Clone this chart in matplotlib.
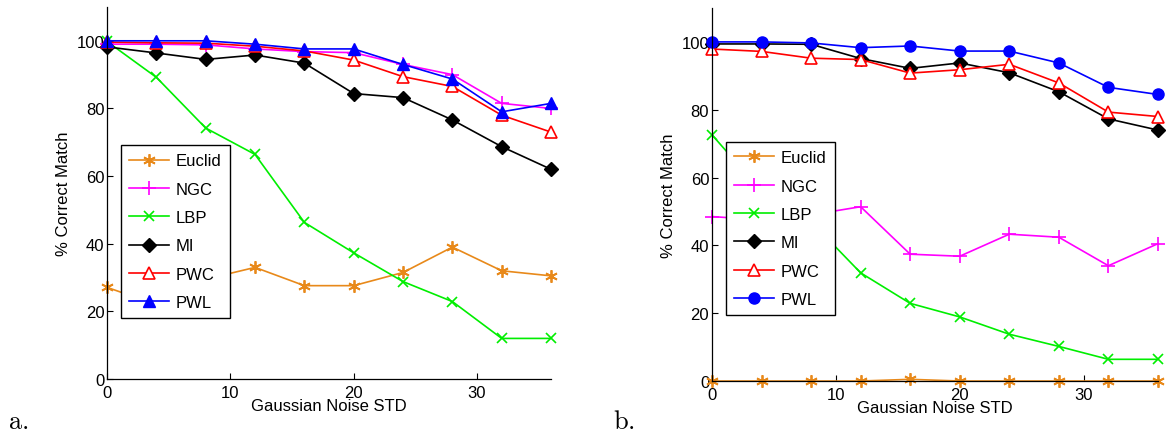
import matplotlib
matplotlib.use("Agg")
import matplotlib.pyplot as plt

plt.rcParams['font.family'] = ['Liberation Sans', 'DejaVu Sans']
plt.rcParams['mathtext.fontset'] = 'cm'

noise = [0, 4, 8, 12, 16, 20, 24, 28, 32, 36]
methods = ["Euclid", "NGC", "LBP", "MI", "PWC", "PWL"]

# panel a
euclid_a = [27.1, 22.0, 29.5, 33.0, 27.6, 27.6, 31.5, 39.0, 32.0, 30.5]
ngc_a = [99.0, 99.0, 98.8, 97.6, 96.8, 96.5, 93.0, 90.0, 81.5, 80.0]
lbp_a = [99.8, 89.2, 74.2, 66.4, 46.3, 37.3, 28.8, 22.9, 12.0, 12.0]
mi_a = [98.2, 96.4, 94.5, 95.8, 93.4, 84.4, 83.2, 76.6, 68.7, 62.0]
pwc_a = [99.6, 99.4, 99.3, 98.4, 97.0, 94.3, 89.4, 86.5, 78.0, 73.0]
pwl_a = [100.0, 100.0, 100.0, 99.0, 97.6, 97.6, 93.0, 88.7, 79.0, 81.5]

# panel b
euclid_b = [0.0, 0.0, 0.0, 0.0, 0.5, 0.0, 0.0, 0.0, 0.0, 0.0]
ngc_b = [48.5, 47.5, 49.0, 51.4, 37.4, 36.8, 43.3, 42.4, 34.0, 40.5]
lbp_b = [72.6, 56.0, 47.0, 31.9, 22.9, 18.9, 13.8, 10.2, 6.4, 6.4]
mi_b = [99.4, 99.4, 99.3, 95.1, 92.2, 93.8, 90.9, 85.3, 77.3, 74.0]
pwc_b = [97.9, 97.2, 95.2, 94.8, 90.8, 91.8, 93.4, 87.9, 79.3, 78.0]
pwl_b = [100.0, 100.0, 99.7, 98.3, 98.8, 97.3, 97.3, 93.8, 86.6, 84.5]

orange = '#E8891A'
# asterisk marker built from three crossing strokes
asterisk = (6, 2, 0)
styles_a = [
    dict(color=orange, marker=asterisk, ms=9, mew=1.3),
    dict(color='#FF00FF', marker='+', ms=10, mew=1.2),
    dict(color='#00EE00', marker='x', ms=7, mew=1.2),
    dict(color='black', marker='D', ms=7, mfc='black'),
    dict(color='red', marker='^', ms=8.5, mfc='white', mew=1.2),
    dict(color='blue', marker='^', ms=8.5, mfc='blue'),
]
styles_b = [dict(s) for s in styles_a]
styles_b[5] = dict(color='blue', marker='o', ms=8, mfc='blue')

fig = plt.figure(figsize=(11.66, 4.39), dpi=100)
ax_a = fig.add_axes([0.0918, 0.1344, 0.3808, 0.8474])
ax_b = fig.add_axes([0.6106, 0.1298, 0.3825, 0.8497])

panels = [
    (ax_a, [euclid_a, ngc_a, lbp_a, mi_a, pwc_a, pwl_a], styles_a, (0.0315, 0.629)),
    (ax_b, [euclid_b, ngc_b, lbp_b, mi_b, pwc_b, pwl_b], styles_b, (0.0314, 0.641)),
]

for ax, series, styles, anchor in panels:
    for name, vals, st in zip(methods, series, styles):
        ax.plot(noise, vals, label=name, lw=1.2, clip_on=False, **st)
    ax.set_xlim(0, 36)
    ax.set_ylim(0, 110)
    ax.set_xticks([0, 10, 20, 30])
    ax.set_yticks([0, 20, 40, 60, 80, 100])
    ax.tick_params(direction='in', length=4, labelsize=12, width=0.8)
    ax.tick_params(axis='x', pad=4)
    ax.tick_params(axis='y', pad=2)
    for side in ['top', 'right']:
        ax.spines[side].set_visible(False)
    for side in ['left', 'bottom']:
        ax.spines[side].set_linewidth(0.9)
    ax.set_xlabel("Gaussian Noise STD", fontsize=12, labelpad=-1)
    ax.set_ylabel("% Correct Match", fontsize=12, labelpad=4)
    leg = ax.legend(loc='upper left', bbox_to_anchor=anchor, borderaxespad=0,
                    fontsize=12, handlelength=2.4, labelspacing=0.8,
                    fancybox=False, framealpha=1, edgecolor='black',
                    borderpad=0.5, handletextpad=0.4)
    leg.get_frame().set_linewidth(1.0)

fig.text(0.007, 0.012, r'$\mathrm{a.}$', fontsize=19, ha='left', va='bottom')
fig.text(0.526, 0.012, r'$\mathrm{b.}$', fontsize=19, ha='left', va='bottom')

fig.savefig("out.png", dpi=100)
